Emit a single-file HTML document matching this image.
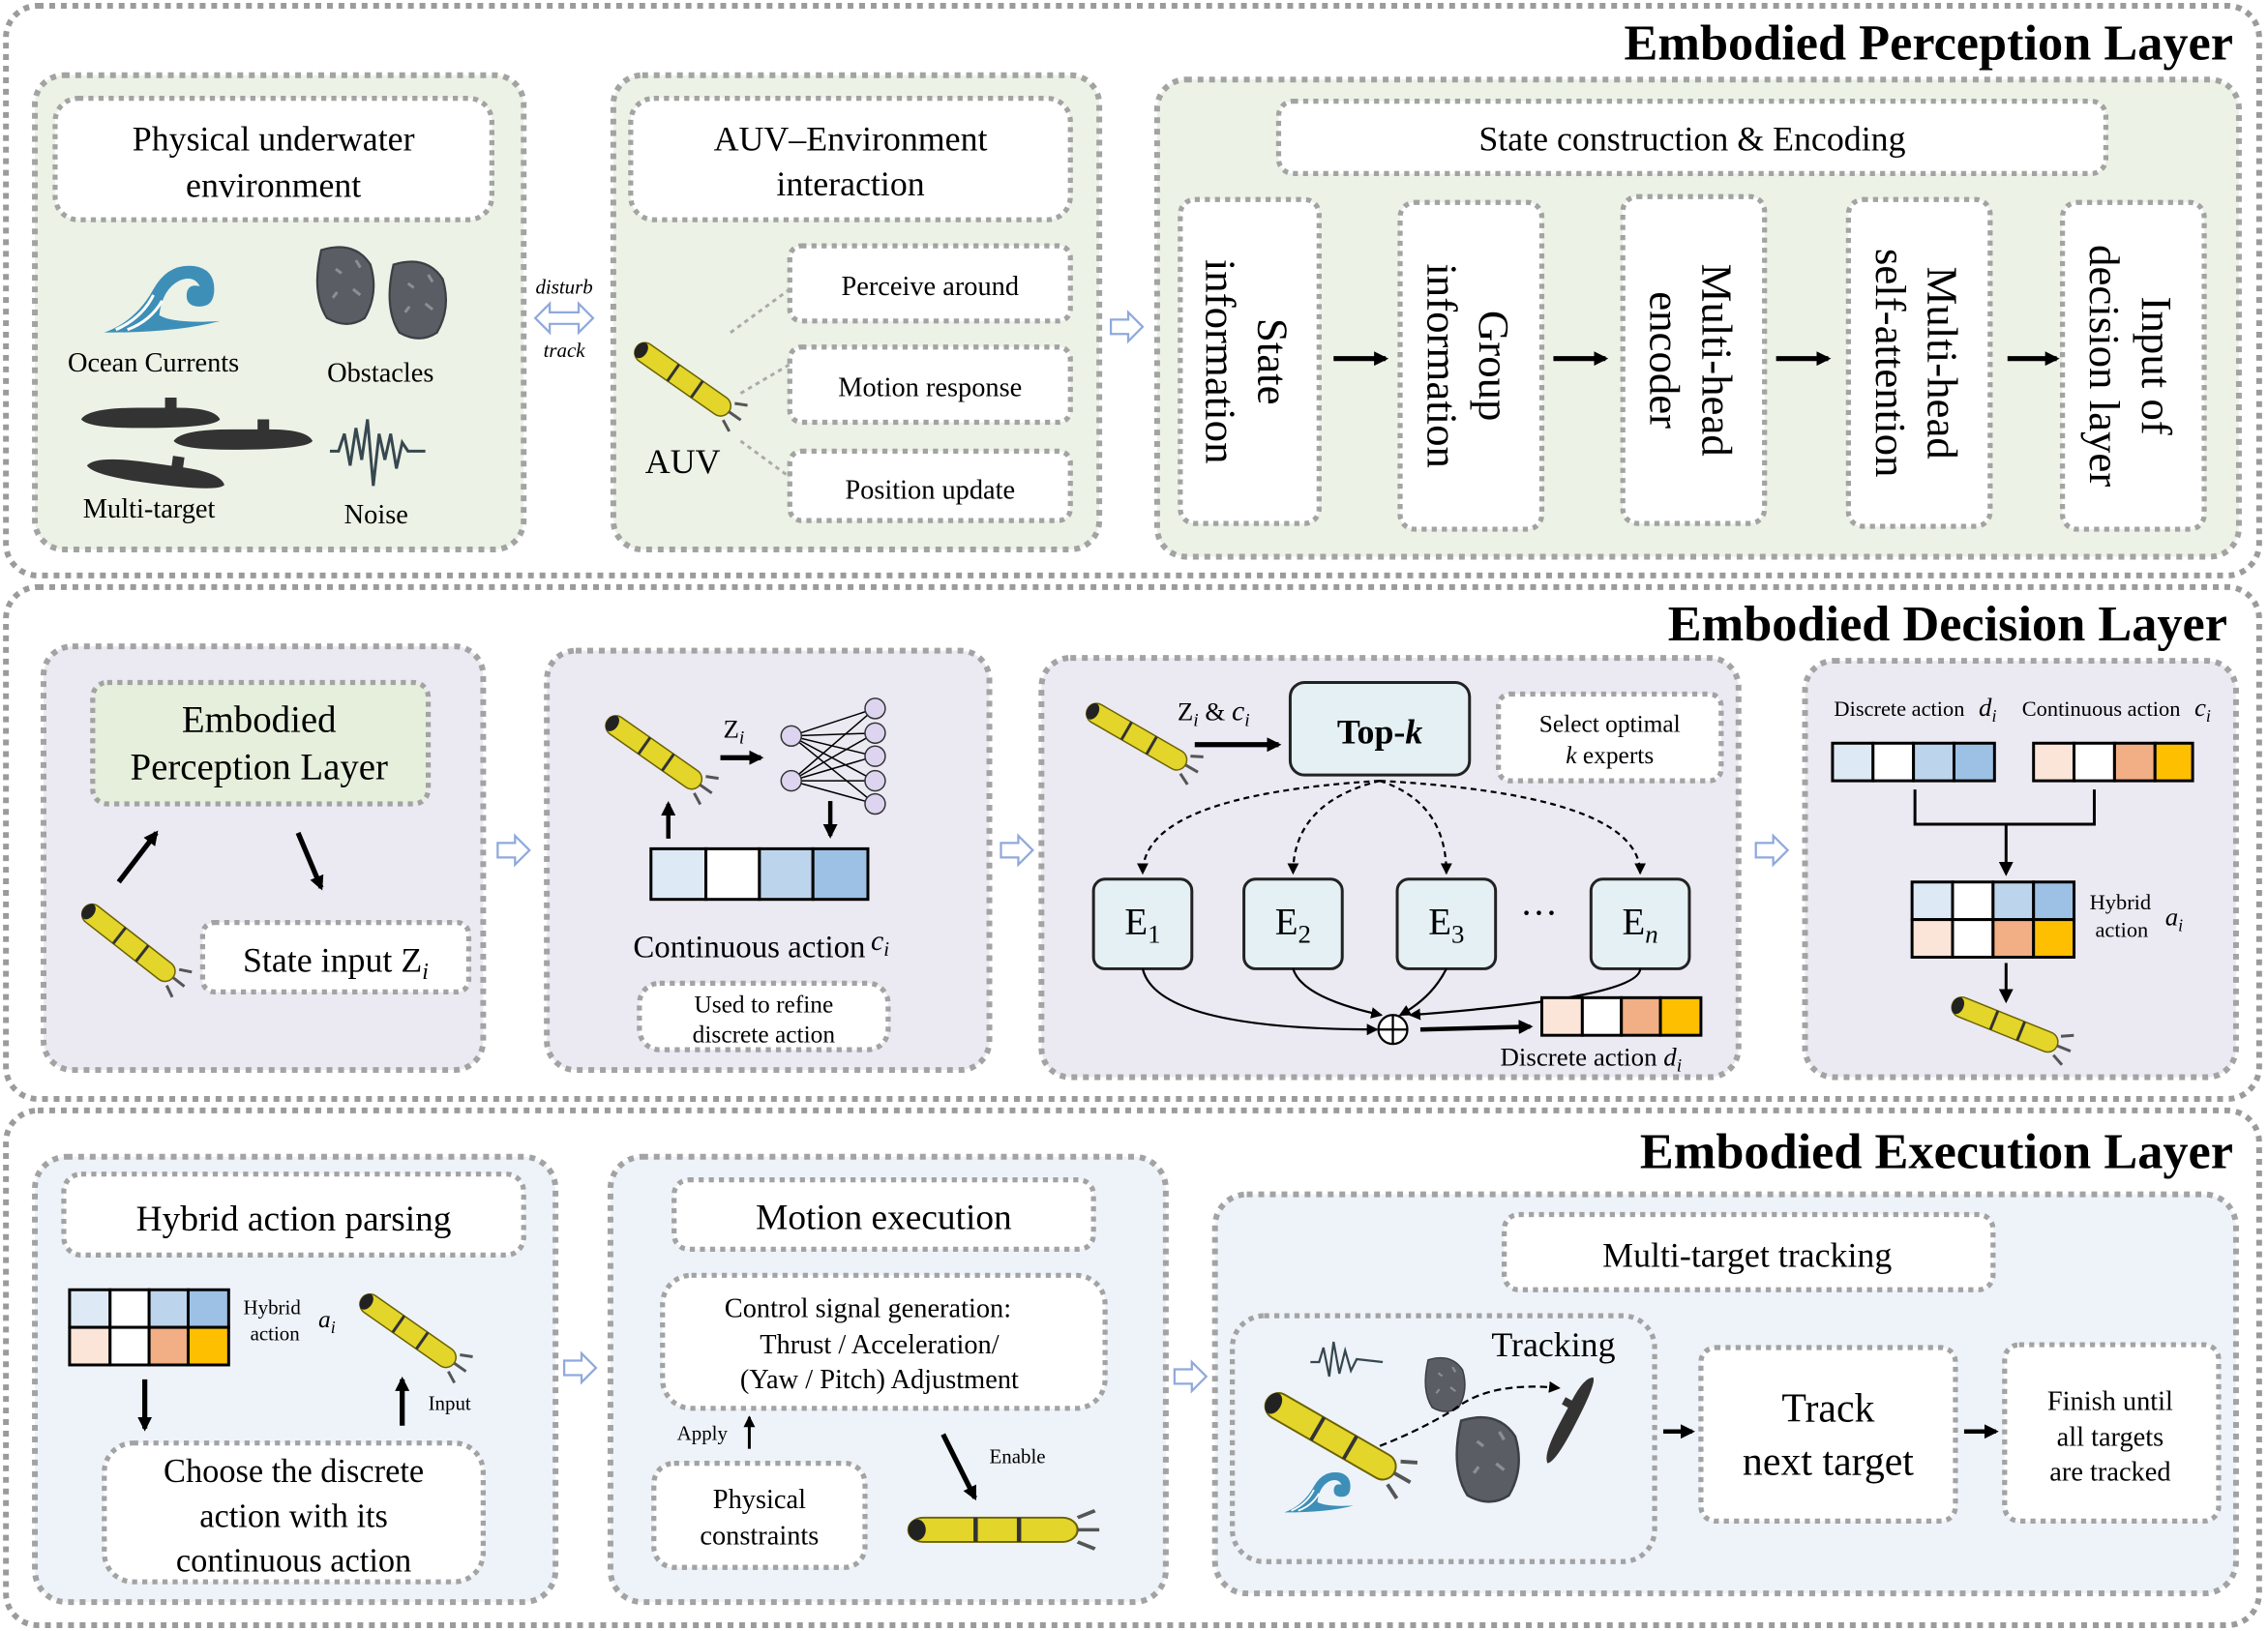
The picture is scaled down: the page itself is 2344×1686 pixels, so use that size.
<!DOCTYPE html>
<html><head><meta charset="utf-8"><style>
html,body{margin:0;padding:0;background:#fff;}
svg{display:block;}
text{font-family:"Liberation Serif",serif;fill:#000;}
</style></head><body>
<svg width="2344" height="1686" viewBox="0 0 1568 1128" xmlns="http://www.w3.org/2000/svg">
<defs>
<marker id="ah" markerWidth="10" markerHeight="10" refX="8" refY="5" orient="auto" markerUnits="userSpaceOnUse"><path d="M0,0 L10,5 L0,10 z" fill="#000"/></marker>
<marker id="ahs" markerWidth="8" markerHeight="8" refX="7" refY="4" orient="auto" markerUnits="userSpaceOnUse"><path d="M0,0 L8,4 L0,8 z" fill="#000"/></marker>
<g id="auv">
<rect x="0" y="-7" width="78" height="14" rx="7" fill="#e3d52a" stroke="#6b6200" stroke-width="1"/>
<ellipse cx="4" cy="0" rx="4" ry="6" fill="#222"/>
<rect x="30" y="-7" width="2" height="14" fill="#333"/>
<rect x="50" y="-7" width="2" height="14" fill="#333"/>
<path d="M78,-7 L86,-11 M78,7 L86,11 M78,0 L88,0" stroke="#555" stroke-width="2"/>
</g>
<g id="hol"><path d="M0,-5 L12,-5 L12,-10 L22,0 L12,10 L12,5 L0,5 z" fill="#fff" stroke="#8fa9dc" stroke-width="1.5"/></g>
<g id="rock"><path d="M-18,-25 Q5,-32 16,-15 Q22,5 12,22 Q0,30 -14,22 Q-25,5 -18,-25z" fill="#5a5e64" stroke="#3c3f44" stroke-width="1.5"/><path d="M-8,-12 l4,3 M4,2 l5,4 M-10,8 l3,-4 M6,-18 l3,5" stroke="#8a8f96" stroke-width="2"/></g>
<g id="sub"><path d="M0,0 Q5,-8 40,-8 L58,-8 L58,-15 L66,-15 L66,-8 Q92,-8 96,0 Q92,6 40,6 Q5,6 0,0z" fill="#333"/></g>
<g id="wave"><path d="M0,0 Q22,-8 34,-30 Q44,-48 62,-46 Q76,-44 76,-30 Q76,-18 66,-18 Q56,-18 57,-27 Q58,-34 66,-32 Q62,-40 52,-36 Q40,-30 38,-12 Q48,-6 80,-8 Q50,0 0,0z" fill="#3d8fb8"/><path d="M8,-2 Q26,-10 34,-26 M16,-2 Q32,-8 40,-22" stroke="#fff" stroke-width="2" fill="none"/></g>
</defs>
<g fill="none" stroke="#9b9b9b" stroke-width="4" stroke-dasharray="4 4">
<rect x="4" y="4" width="1558" height="394" rx="22"/>
<rect x="4" y="406" width="1558" height="354" rx="22"/>
<rect x="4" y="768" width="1558" height="356" rx="22"/>
</g>
<g font-weight="bold" font-size="35" text-anchor="end">
<text x="1544" y="41">Embodied Perception Layer</text>
<text x="1540" y="443">Embodied Decision Layer</text>
<text x="1544" y="808">Embodied Execution Layer</text>
</g>
<g stroke="#a3a3a3" stroke-width="4" stroke-dasharray="4 4">
<rect x="24" y="52" width="338" height="328" rx="20" fill="#ecf2e6"/>
<rect x="424" y="52" width="336" height="328" rx="20" fill="#ecf2e6"/>
<rect x="800" y="55" width="748" height="330" rx="20" fill="#ecf2e6"/>
<rect x="30" y="447" width="304" height="293" rx="20" fill="#ebe9f2"/>
<rect x="378" y="450" width="306" height="290" rx="20" fill="#ebe9f2"/>
<rect x="720" y="455" width="482" height="290" rx="20" fill="#ebe9f2"/>
<rect x="1248" y="457" width="298" height="288" rx="20" fill="#ebe9f2"/>
<rect x="24" y="800" width="360" height="308" rx="22" fill="#eef3fa"/>
<rect x="422" y="800" width="384" height="308" rx="22" fill="#eef3fa"/>
<rect x="840" y="826" width="706" height="276" rx="22" fill="#eef3fa"/>
</g>
<g stroke="#a3a3a3" stroke-width="3.5" stroke-dasharray="3.5 3.5" fill="#fff">
<rect x="38" y="68" width="302" height="84" rx="16"/>
<rect x="436" y="68" width="304" height="84" rx="16"/>
<rect x="546" y="170" width="194" height="52" rx="8"/>
<rect x="546" y="240" width="194" height="52" rx="8"/>
<rect x="546" y="312" width="194" height="48" rx="8"/>
<rect x="884" y="70" width="572" height="50" rx="10"/>
<rect x="816" y="138" width="96" height="224" rx="10"/>
<rect x="968" y="140" width="98" height="226" rx="10"/>
<rect x="1122" y="136" width="98" height="226" rx="10"/>
<rect x="1278" y="138" width="98" height="226" rx="10"/>
<rect x="1426" y="140" width="98" height="226" rx="10"/>
<rect x="64" y="472" width="232" height="84" rx="10" fill="#e6efdc"/>
<rect x="140" y="638" width="184" height="48" rx="8"/>
<rect x="442" y="680" width="172" height="46" rx="14"/>
<rect x="1036" y="480" width="154" height="60" rx="8"/>
<rect x="44" y="812" width="318" height="56" rx="12"/>
<rect x="72" y="998" width="262" height="96" rx="20"/>
<rect x="466" y="816" width="290" height="48" rx="10"/>
<rect x="458" y="882" width="306" height="92" rx="20"/>
<rect x="452" y="1012" width="146" height="72" rx="14"/>
<rect x="1040" y="840" width="338" height="52" rx="10"/>
<rect x="852" y="910" width="292" height="170" rx="22" fill="#eef3fa"/>
<rect x="1176" y="932" width="176" height="120" rx="10"/>
<rect x="1386" y="930" width="148" height="122" rx="10"/>
</g>
<g font-size="24" text-anchor="middle">
<text x="189" y="104">Physical underwater</text><text x="189" y="136">environment</text>
<text x="588" y="104">AUV–Environment</text><text x="588" y="135">interaction</text>
<text x="1170" y="104">State construction &amp; Encoding</text>
</g>
<g font-size="19" text-anchor="middle">
<text x="106" y="257">Ocean Currents</text><text x="263" y="264">Obstacles</text>
<text x="103" y="358">Multi-target</text><text x="260" y="362">Noise</text>
<text x="643" y="204">Perceive around</text><text x="643" y="274">Motion response</text><text x="643" y="345">Position update</text>
</g>
<text x="472" y="327" font-size="24" text-anchor="middle">AUV</text>
<text x="390" y="203" font-size="14" font-style="italic" text-anchor="middle">disturb</text>
<text x="390" y="247" font-size="14" font-style="italic" text-anchor="middle">track</text>
<path d="M370,220 L380,210 L380,216 L400,216 L400,210 L410,220 L400,230 L400,224 L380,224 L380,230z" fill="#fff" stroke="#8fa9dc" stroke-width="1.5"/>
<use href="#wave" x="72" y="230"/>
<use href="#rock" x="240" y="198"/><use href="#rock" x="290" y="208"/>
<use href="#sub" x="56" y="290"/><use href="#sub" x="60" y="322" transform="rotate(8 60 322)"/>
<use href="#sub" x="120" y="305"/>
<path d="M228,312 L234,312 L238,300 L242,322 L246,296 L250,318 L254,290 L258,336 L262,300 L266,318 L270,300 L274,324 L278,306 L282,312 L294,312" fill="none" stroke="#37474f" stroke-width="2"/>
<use href="#auv" transform="translate(440,240) rotate(35)"/>
<path d="M512,272 L546,252 M505,230 L546,200 M512,305 L546,330" stroke="#aaa" stroke-width="2" stroke-dasharray="3 3"/>
<use href="#hol" x="768" y="226"/>
<g font-size="30" text-anchor="middle">
<text transform="translate(864,250) rotate(90)"><tspan x="0" y="-6">State</tspan><tspan x="0" y="30">information</tspan></text>
<text transform="translate(1017,253) rotate(90)"><tspan x="0" y="-6">Group</tspan><tspan x="0" y="30">information</tspan></text>
<text transform="translate(1171,249) rotate(90)"><tspan x="0" y="-6">Multi-head</tspan><tspan x="0" y="30">encoder</tspan></text>
<text transform="translate(1327,251) rotate(90)"><tspan x="0" y="-6">Multi-head</tspan><tspan x="0" y="30">self-attention</tspan></text>
<text transform="translate(1475,253) rotate(90)"><tspan x="0" y="-6">Input of</tspan><tspan x="0" y="30">decision layer</tspan></text>
</g>
<g stroke="#000" stroke-width="3.5" marker-end="url(#ah)">
<line x1="922" y1="248" x2="958" y2="248"/><line x1="1074" y1="248" x2="1110" y2="248"/>
<line x1="1228" y1="248" x2="1264" y2="248"/><line x1="1388" y1="248" x2="1422" y2="248"/>
</g>
<text x="179" y="506" font-size="26" text-anchor="middle">Embodied</text>
<text x="179" y="539" font-size="26" text-anchor="middle">Perception Layer</text>
<text x="232" y="672" font-size="24" text-anchor="middle">State input Z<tspan font-style="italic" font-size="16" dy="5">i</tspan></text>
<use href="#auv" transform="translate(58,628) rotate(38)"/>
<g stroke="#000" stroke-width="3.5" marker-end="url(#ah)">
<line x1="82" y1="610" x2="108" y2="576"/><line x1="206" y1="576" x2="222" y2="614"/>
</g>
<use href="#hol" x="344" y="588"/>
<use href="#auv" transform="translate(420,498) rotate(35)"/>
<text x="500" y="510" font-size="18">Z<tspan font-size="13" font-style="italic" dy="4">i</tspan></text>
<line x1="498" y1="524" x2="526" y2="524" stroke="#000" stroke-width="3.5" marker-end="url(#ah)"/>
<g stroke="#000" stroke-width="1">
<line x1="547" y1="509" x2="605" y2="490"/><line x1="547" y1="509" x2="605" y2="507"/><line x1="547" y1="509" x2="605" y2="523"/><line x1="547" y1="509" x2="605" y2="540"/>
<line x1="547" y1="540" x2="605" y2="490"/><line x1="547" y1="540" x2="605" y2="507"/><line x1="547" y1="540" x2="605" y2="523"/><line x1="547" y1="540" x2="605" y2="556"/>
<line x1="547" y1="509" x2="605" y2="556"/><line x1="547" y1="540" x2="605" y2="540"/>
</g>
<g fill="#ddd4f0" stroke="#333" stroke-width="1"><circle cx="547" cy="509" r="7"/><circle cx="547" cy="540" r="7"/>
<circle cx="605" cy="490" r="7"/><circle cx="605" cy="507" r="7"/><circle cx="605" cy="523" r="7"/><circle cx="605" cy="540" r="7"/><circle cx="605" cy="556" r="7"/></g>
<g stroke="#000" stroke-width="3" marker-end="url(#ah)"><line x1="574" y1="554" x2="574" y2="578"/><line x1="462" y1="580" x2="462" y2="556"/></g>
<g stroke="#000" stroke-width="2"><rect x="450" y="587" width="38" height="35" fill="#dde9f4"/><rect x="488" y="587" width="37" height="35" fill="#fff"/><rect x="525" y="587" width="37" height="35" fill="#bdd5ec"/><rect x="562" y="587" width="38" height="35" fill="#9dc1e4"/></g>
<text x="518" y="662" font-size="22" text-anchor="middle">Continuous action</text>
<text x="602" y="657" font-size="20" font-style="italic">c<tspan font-size="14" dy="4">i</tspan></text>
<text x="528" y="700" font-size="17" text-anchor="middle">Used to refine</text>
<text x="528" y="721" font-size="17" text-anchor="middle">discrete action</text>
<use href="#hol" x="692" y="588"/>
<use href="#auv" transform="translate(752,490) rotate(30)"/>
<text x="814" y="498" font-size="18">Z<tspan font-size="13" font-style="italic" dy="4">i</tspan><tspan dy="-4"> &amp; </tspan><tspan font-style="italic" font-size="20">c</tspan><tspan font-size="13" font-style="italic" dy="4">i</tspan></text>
<line x1="826" y1="515" x2="884" y2="515" stroke="#000" stroke-width="3.5" marker-end="url(#ah)"/>
<rect x="892" y="472" width="124" height="64" rx="10" fill="#e4f0f4" stroke="#222" stroke-width="2"/>
<text x="954" y="514" font-size="24" font-weight="bold" text-anchor="middle">Top-<tspan font-style="italic">k</tspan></text>
<text x="1113" y="506" font-size="17" text-anchor="middle">Select optimal</text>
<text x="1113" y="528" font-size="17" text-anchor="middle"><tspan font-style="italic">k</tspan> experts</text>
<g fill="none" stroke="#000" stroke-width="1.5" stroke-dasharray="4 3" marker-end="url(#ahs)">
<path d="M954,540 Q790,550 790,604"/><path d="M954,540 Q894,555 894,604"/><path d="M954,540 Q1000,555 1000,604"/><path d="M954,540 Q1134,550 1134,604"/>
</g>
<g fill="#e4f0f4" stroke="#222" stroke-width="2">
<rect x="756" y="608" width="68" height="62" rx="8"/><rect x="860" y="608" width="68" height="62" rx="8"/><rect x="966" y="608" width="68" height="62" rx="8"/><rect x="1100" y="608" width="68" height="62" rx="8"/>
</g>
<g font-size="26" text-anchor="middle">
<text x="790" y="646">E<tspan font-size="18" dy="6">1</tspan></text><text x="894" y="646">E<tspan font-size="18" dy="6">2</tspan></text><text x="1000" y="646">E<tspan font-size="18" dy="6">3</tspan></text><text x="1134" y="646">E<tspan font-size="18" dy="6" font-style="italic">n</tspan></text>
<text x="1064" y="640">···</text>
</g>
<g fill="none" stroke="#000" stroke-width="1.5" marker-end="url(#ahs)">
<path d="M790,670 Q800,712 952,712"/><path d="M894,670 Q900,690 955,702"/><path d="M1000,670 Q990,690 968,702"/><path d="M1134,670 Q1134,690 975,702"/>
</g>
<circle cx="963" cy="712" r="10" fill="#fff" stroke="#000" stroke-width="1.5"/>
<path d="M953,712 H973 M963,702 V722" stroke="#000" stroke-width="1.5"/>
<line x1="982" y1="712" x2="1058" y2="710" stroke="#000" stroke-width="3" marker-end="url(#ah)"/>
<g stroke="#000" stroke-width="2"><rect x="1066" y="690" width="28" height="26" fill="#fbe5d8"/><rect x="1094" y="690" width="27" height="26" fill="#fff"/><rect x="1121" y="690" width="27" height="26" fill="#f2ae84"/><rect x="1148" y="690" width="28" height="26" fill="#fdbf00"/></g>
<text x="1100" y="737" font-size="18" text-anchor="middle">Discrete action <tspan font-style="italic">d</tspan><tspan font-size="13" font-style="italic" dy="4">i</tspan></text>
<use href="#hol" x="1214" y="588"/>
<text x="1268" y="495" font-size="15">Discrete action <tspan font-style="italic" font-size="18" dx="6">d</tspan><tspan font-size="12" font-style="italic" dy="4">i</tspan></text>
<text x="1398" y="495" font-size="15">Continuous action <tspan font-style="italic" font-size="18" dx="6">c</tspan><tspan font-size="12" font-style="italic" dy="4">i</tspan></text>
<g stroke="#000" stroke-width="2">
<rect x="1267" y="514" width="28" height="26" fill="#dde9f4"/><rect x="1295" y="514" width="28" height="26" fill="#fff"/><rect x="1323" y="514" width="28" height="26" fill="#bdd5ec"/><rect x="1351" y="514" width="28" height="26" fill="#9dc1e4"/>
<rect x="1406" y="514" width="28" height="26" fill="#fbe5d8"/><rect x="1434" y="514" width="28" height="26" fill="#fff"/><rect x="1462" y="514" width="28" height="26" fill="#f2ae84"/><rect x="1490" y="514" width="26" height="26" fill="#fdbf00"/>
<rect x="1322" y="610" width="28" height="26" fill="#dde9f4"/><rect x="1350" y="610" width="28" height="26" fill="#fff"/><rect x="1378" y="610" width="28" height="26" fill="#bdd5ec"/><rect x="1406" y="610" width="28" height="26" fill="#9dc1e4"/>
<rect x="1322" y="636" width="28" height="26" fill="#fbe5d8"/><rect x="1350" y="636" width="28" height="26" fill="#fff"/><rect x="1378" y="636" width="28" height="26" fill="#f2ae84"/><rect x="1406" y="636" width="28" height="26" fill="#fdbf00"/>
</g>
<path d="M1324,546 V570 H1448 V546" fill="none" stroke="#000" stroke-width="2"/>
<g stroke="#000" stroke-width="2" marker-end="url(#ah)"><line x1="1387" y1="570" x2="1387" y2="604"/><line x1="1387" y1="666" x2="1387" y2="692"/></g>
<text x="1466" y="629" font-size="15" text-anchor="middle">Hybrid</text><text x="1467" y="648" font-size="15" text-anchor="middle">action</text>
<text x="1497" y="640" font-size="18" font-style="italic">a<tspan font-size="12" dy="4">i</tspan></text>
<use href="#auv" transform="translate(1350,694) rotate(22)"/>
<text x="203" y="851" font-size="25" text-anchor="middle">Hybrid action parsing</text>
<g stroke="#000" stroke-width="2">
<rect x="48" y="892" width="28" height="26" fill="#dde9f4"/><rect x="76" y="892" width="27" height="26" fill="#fff"/><rect x="103" y="892" width="27" height="26" fill="#bdd5ec"/><rect x="130" y="892" width="28" height="26" fill="#9dc1e4"/>
<rect x="48" y="918" width="28" height="26" fill="#fbe5d8"/><rect x="76" y="918" width="27" height="26" fill="#fff"/><rect x="103" y="918" width="27" height="26" fill="#f2ae84"/><rect x="130" y="918" width="28" height="26" fill="#fdbf00"/>
</g>
<text x="188" y="909" font-size="14" text-anchor="middle">Hybrid</text><text x="190" y="927" font-size="14" text-anchor="middle">action</text>
<text x="220" y="918" font-size="17" font-style="italic">a<tspan font-size="12" dy="4">i</tspan></text>
<use href="#auv" transform="translate(250,898) rotate(35)"/>
<g stroke="#000" stroke-width="3.5" marker-end="url(#ah)"><line x1="100" y1="954" x2="100" y2="988"/><line x1="278" y1="986" x2="278" y2="954"/></g>
<text x="296" y="975" font-size="14">Input</text>
<g font-size="23" text-anchor="middle"><text x="203" y="1025">Choose the discrete</text><text x="203" y="1056">action with its</text><text x="203" y="1087">continuous action</text></g>
<use href="#hol" x="390" y="946"/>
<text x="611" y="850" font-size="25" text-anchor="middle">Motion execution</text>
<g font-size="19" text-anchor="middle"><text x="600" y="911">Control signal generation:</text><text x="608" y="936">Thrust / Acceleration/</text><text x="608" y="960">(Yaw / Pitch) Adjustment</text>
<text x="525" y="1043">Physical</text><text x="525" y="1068">constraints</text></g>
<line x1="518" y1="1002" x2="518" y2="980" stroke="#000" stroke-width="2" marker-end="url(#ahs)"/>
<text x="468" y="996" font-size="14">Apply</text>
<line x1="652" y1="992" x2="674" y2="1036" stroke="#000" stroke-width="3.5" marker-end="url(#ah)"/>
<text x="684" y="1012" font-size="14">Enable</text>
<use href="#auv" transform="translate(628,1058) scale(1.5,1.2)"/>
<use href="#hol" x="812" y="952"/>
<text x="1208" y="876" font-size="24" text-anchor="middle">Multi-target tracking</text>
<text x="1074" y="938" font-size="24" text-anchor="middle">Tracking</text>
<path d="M906,942 L912,942 L915,932 L919,952 L922,928 L926,950 L930,934 L934,948 L938,940 L956,942" fill="none" stroke="#37474f" stroke-width="1.5"/>
<use href="#rock" transform="translate(1000,958) scale(0.7)"/>
<use href="#rock" transform="translate(1030,1010) scale(1.1)"/>
<use href="#auv" transform="translate(876,968) rotate(30) scale(1.3)"/>
<path d="M954,1000 Q980,990 1005,975 Q1030,955 1078,960" fill="none" stroke="#000" stroke-width="1.5" stroke-dasharray="5 3" marker-end="url(#ahs)"/>
<use href="#sub" transform="translate(1070,1012) rotate(-62) scale(0.7)"/>
<use href="#wave" transform="translate(888,1046) scale(0.6)"/>
<g stroke="#000" stroke-width="3" marker-end="url(#ah)"><line x1="1150" y1="990" x2="1170" y2="990"/><line x1="1358" y1="990" x2="1380" y2="990"/></g>
<g font-size="28" text-anchor="middle"><text x="1264" y="983">Track</text><text x="1264" y="1020">next target</text></g>
<g font-size="19" text-anchor="middle"><text x="1459" y="975">Finish until</text><text x="1459" y="1000">all targets</text><text x="1459" y="1024">are tracked</text></g>
</svg>
</body></html>
